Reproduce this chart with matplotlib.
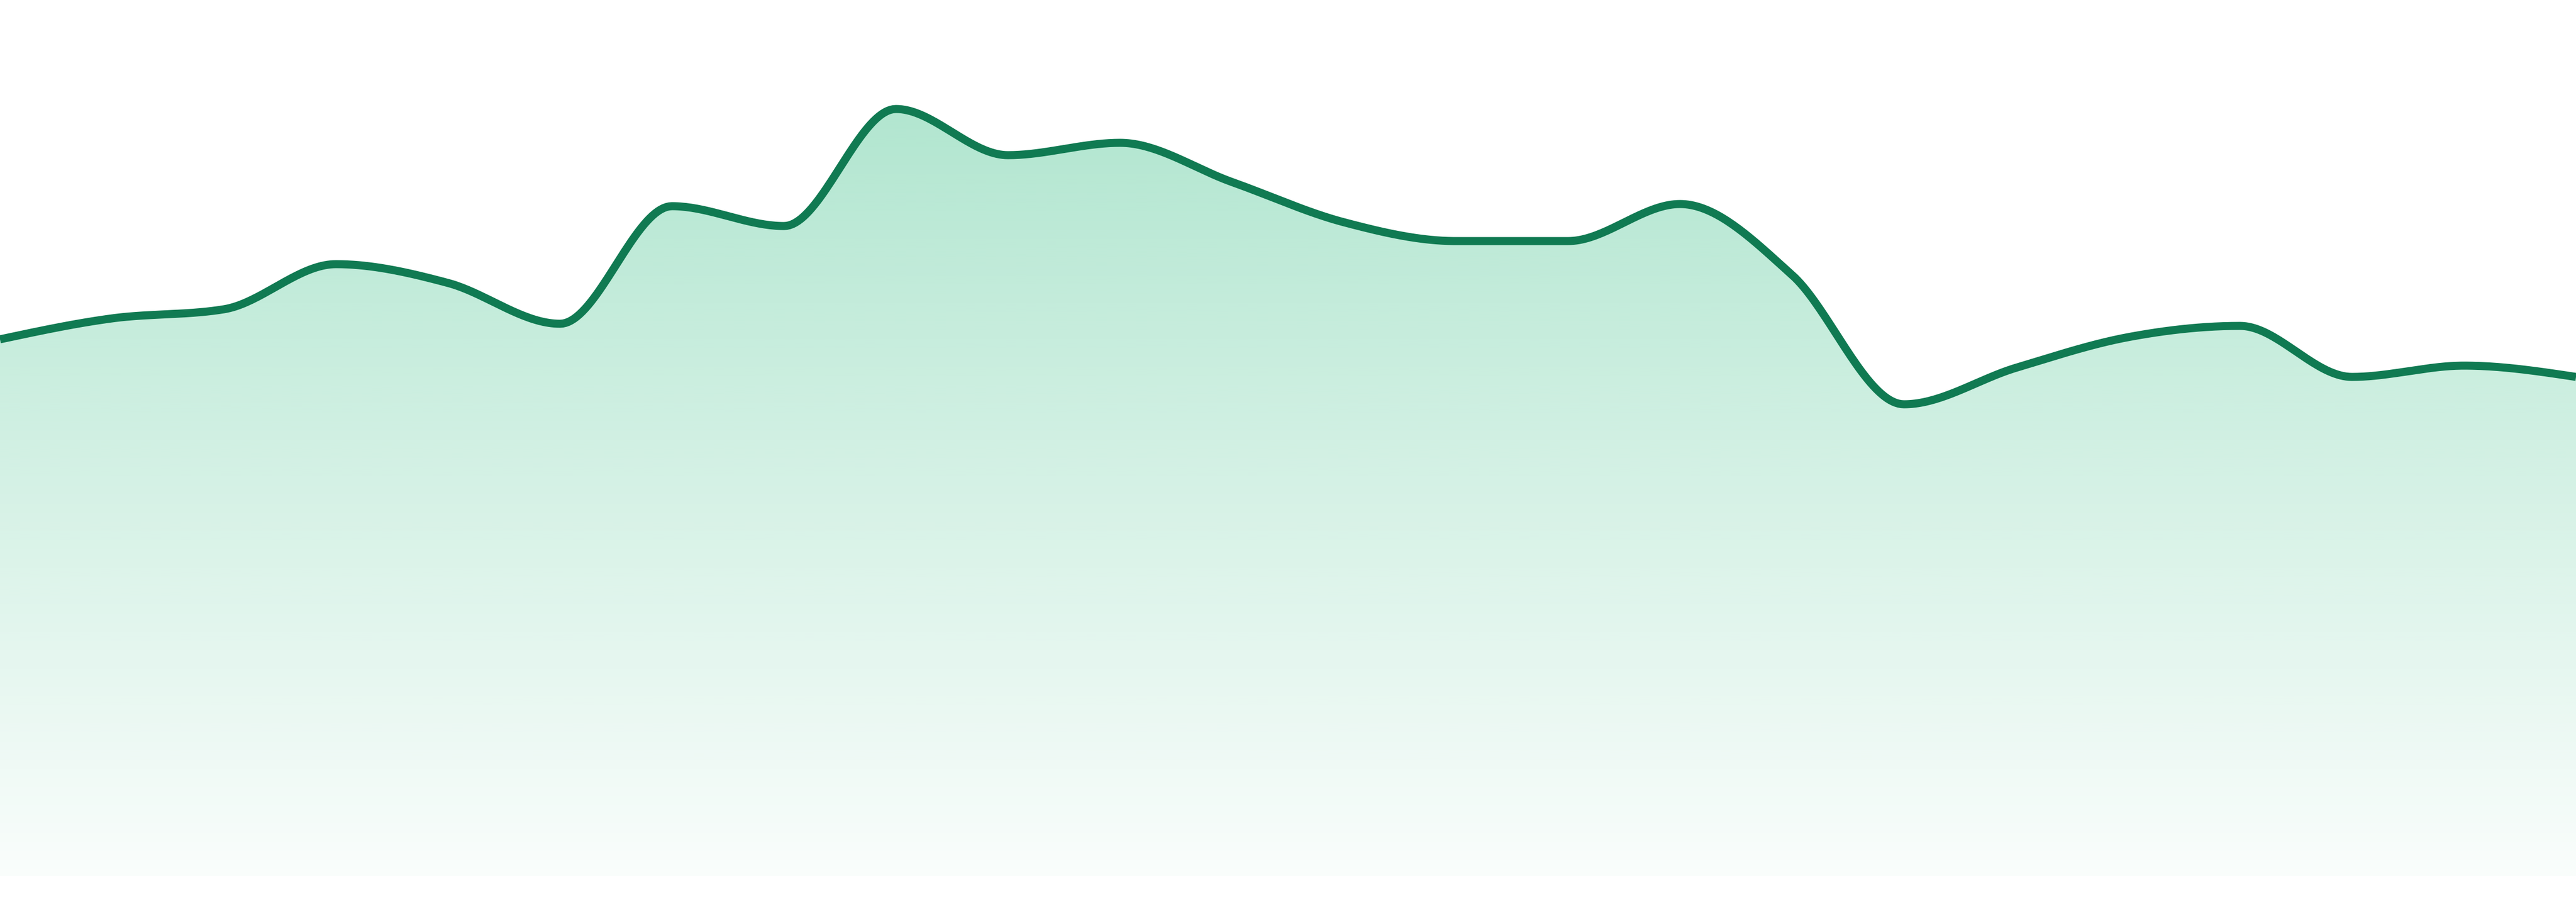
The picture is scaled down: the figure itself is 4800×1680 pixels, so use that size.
import numpy as np
import matplotlib
matplotlib.use("Agg")
import matplotlib.pyplot as plt
from matplotlib.colors import to_rgb

# values (one point per step, left to right)
steps = list(range(24))
values = [1000, 1039, 1056, 1140, 1105, 1029, 1248, 1211, 1429, 1343, 1366, 1293,
          1218, 1183, 1183, 1252, 1120, 879, 947, 1004, 1025, 930, 951, 930]

line_color = "#107A52"
fill_color = "#23B879"
alpha_top = 0.40
alpha_bottom = 0.025
y_max = 1632


def monotone_curve(x, y, n=40):
    # same idea as d3.curveMonotoneX: cubic hermite with Fritsch-Carlson style slopes
    x = np.asarray(x, float)
    y = np.asarray(y, float)
    h = np.diff(x)
    s = np.diff(y) / h
    t = np.zeros_like(y)
    for i in range(1, len(y) - 1):
        p = (s[i - 1] * h[i] + s[i] * h[i - 1]) / (h[i - 1] + h[i])
        t[i] = (np.sign(s[i - 1]) + np.sign(s[i])) * min(abs(s[i - 1]), abs(s[i]), 0.5 * abs(p))
    t[0] = (3 * s[0] - t[1]) / 2 if h[0] else t[1]
    t[-1] = (3 * s[-1] - t[-2]) / 2
    xs, ys = [], []
    for i in range(len(h)):
        u = np.linspace(0, 1, n, endpoint=False)
        h00 = 2 * u**3 - 3 * u**2 + 1
        h10 = u**3 - 2 * u**2 + u
        h01 = -2 * u**3 + 3 * u**2
        h11 = u**3 - u**2
        xs.append(x[i] + u * h[i])
        ys.append(h00 * y[i] + h10 * h[i] * t[i] + h01 * y[i + 1] + h11 * h[i] * t[i + 1])
    xs.append([x[-1]])
    ys.append([y[-1]])
    return np.concatenate(xs), np.concatenate(ys)


cx, cy = monotone_curve(steps, values)

fig = plt.figure(figsize=(48, 16.8), dpi=100)
ax = fig.add_axes([0, 48 / 1680, 1, 1632 / 1680])
ax.set_xlim(steps[0], steps[-1])
ax.set_ylim(0, y_max)
ax.axis("off")

# gradient fill under the curve
poly = ax.fill_between(cx, cy, 0, color="none", lw=0)
rgb = to_rgb(fill_color)
grad = np.zeros((400, 1, 4))
grad[:, 0, :3] = rgb
grad[:, 0, 3] = np.linspace(alpha_top, alpha_bottom, 400)
img = ax.imshow(grad, extent=[steps[0], steps[-1], 0, y_max], aspect="auto",
                origin="upper", interpolation="bilinear")
clip = poly.get_paths()[0]
img.set_clip_path(clip, transform=ax.transData)

ax.plot(cx, cy, color=line_color, lw=10.8, solid_capstyle="butt", solid_joinstyle="round")

fig.savefig("out.png", dpi=100, facecolor="white")
